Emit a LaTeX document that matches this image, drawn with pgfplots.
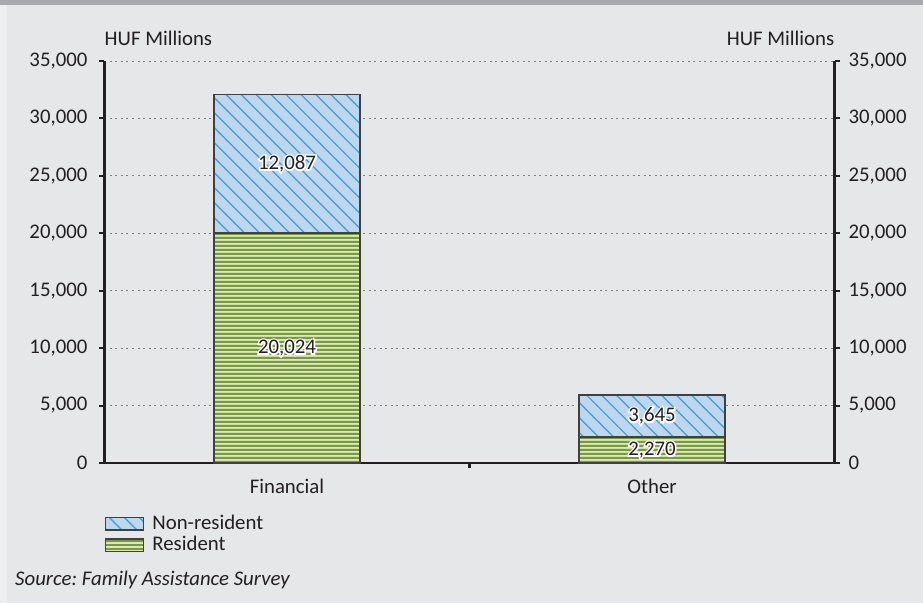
\documentclass[border=0pt]{standalone}
\usepackage{pgfplots}
\pgfplotsset{compat=1.18}
\usepackage{pgfplotstable}
\usetikzlibrary{patterns.meta}
\usepackage{fontspec}
\setmainfont{Carlito}
\newfontfamily\halofont[FakeBold=15]{Carlito}
\definecolor{bg}{HTML}{E6E7E8}
\definecolor{topbar}{HTML}{A7A9AC}
\definecolor{txt}{HTML}{231F20}
\definecolor{nrfill}{HTML}{BDD7EE}
\definecolor{nrline}{HTML}{4F9FD3}
\definecolor{rfill}{HTML}{DCE6C2}
\definecolor{rline}{HTML}{779A3A}
\definecolor{baredge}{HTML}{404040}
\definecolor{gridc}{HTML}{7F7F7F}
\newcommand\cf{\fontsize{20.8pt}{25pt}\selectfont}
\newcommand\halo[1]{\rlap{\textcolor{white}{\halofont\cf #1}}\textcolor{txt}{#1}}

\tikzdeclarepattern{
  name=hstripes,
  type=uncolored,
  bounding box={(0pt,0pt) and (1000pt,3.8pt)},
  tile size={(1000pt,3.8pt)},
  code={\fill (0pt,0pt) rectangle (1000pt,2.2pt);}
}

\pgfplotstableread{
x y
0 20024
1 2270
}\resident
\pgfplotstableread{
x y
0 12087
1 3645
}\nonresident
\pgfplotstableread{
x y label
0 10012 20,024
0 26067.5 12,087
1 1135 2,270
1 4092.5 3,645
}\labels

\pgfplotsset{
  common/.style={
    at={(104.5pt,140pt)}, anchor=south west, scale only axis,
    width=730pt, height=402pt,
    xmin=-0.5, xmax=1.5, ymin=0, ymax=35000,
    clip=false,
    axis line style={line width=2.2pt, color=txt, -},
    ytick={0,5000,...,35000},
    tick align=outside, major tick length=5pt,
    y tick style={line width=2pt, color=txt},
    /pgf/number format/1000 sep={,},
    /pgf/number format/assume math mode=true,
    scaled y ticks=false,
    tick label style={font=\cf, text=txt},
  }
}

\begin{document}
\frenchspacing\cf\color{txt}%
\begin{tikzpicture}[x=1pt,y=1pt]
\fill[bg] (0,0) rectangle (923,603);
\useasboundingbox (0,0) rectangle (923,603);
\fill[topbar] (0,598) rectangle (923,603);
\fill[white,opacity=0.35] (0,0) rectangle (7,598);
\node[anchor=base west, inner sep=0pt, font=\cf\itshape, text=txt] at (15,18) {Source: Family Assistance Survey};

\begin{axis}[common,
  ybar stacked, bar width=0.4,
  axis x line*=bottom, axis y line*=left,
  xtick={0.5}, xticklabels={},
  x tick style={line width=2.5pt, color=txt},
  extra x ticks={0,1}, extra x tick labels={Financial,Other},
  extra x tick style={major tick length=0pt},
  x tick label style={yshift=-9pt},
  y tick label style={xshift=-5pt},
  ymajorgrids, grid style={gridc, line width=1pt, dash pattern=on 2pt off 3.5pt},
  reverse legend,
  legend cell align=left,
  legend image code/.code={\draw[#1] (0pt,-6.3pt) rectangle (38pt,6.3pt);},
  legend style={draw=none, fill=none, inner sep=0pt, at={(0.0,-0.124)}, anchor=north west,
    font=\cf, text=txt,
    nodes={text height=14.5pt, text depth=4pt, inner sep=1.5pt},
    /tikz/every odd column/.append style={column sep=7pt}},
]
\addplot[preaction={fill=rfill}, pattern=hstripes, pattern color=rline, draw=baredge, line width=1.2pt] table {\resident};
\addlegendentry{Resident}
\addplot[preaction={fill=nrfill}, pattern={Lines[angle=-45,distance=10.6pt,line width=1.4pt]}, pattern color=nrline, draw=baredge, line width=1.2pt] table {\nonresident};
\addlegendentry{Non-resident}
\node[anchor=base west, inner sep=0pt, font=\cf, text=txt] at (rel axis cs:0,1) [yshift=15.7pt] {HUF Millions};
\end{axis}

\begin{axis}[common,
  axis x line=none, axis y line*=right,
  y tick label style={xshift=2pt},
]
\addplot[draw=none, mark=none, nodes near coords={\halo{\pgfplotspointmeta}}, nodes near coords align={anchor=center},
  point meta=explicit symbolic,
  every node near coord/.append style={anchor=center, inner sep=0pt, font=\cf}] table[meta=label] {\labels};
\node[anchor=base east, inner sep=0pt, font=\cf, text=txt] at (rel axis cs:1,1) [yshift=15.7pt] {HUF Millions};
\end{axis}
\end{tikzpicture}
\end{document}
